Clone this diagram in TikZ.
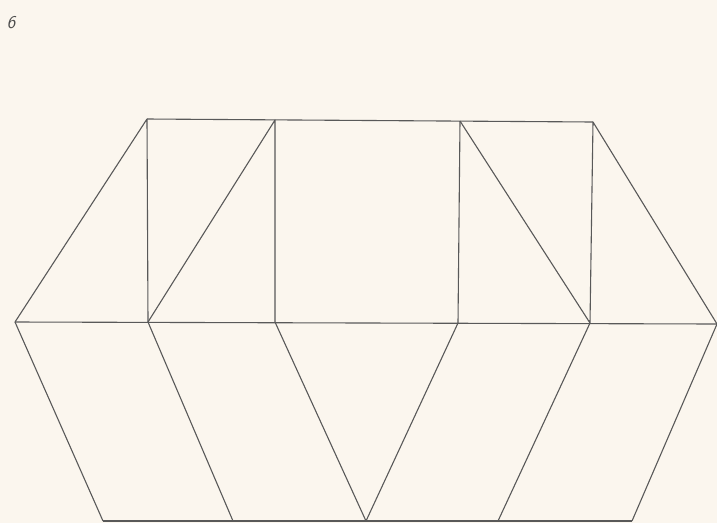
\documentclass[tikz,border=0pt]{standalone}
\begin{document}
\begin{tikzpicture}[x=1pt,y=-1pt,edge/.style={draw=black!65,line width=1.1pt,line join=round}]
\fill[fill={rgb,255:red,251;green,246;blue,238}] (0,0) rectangle (717,523);
\useasboundingbox (0,0) rectangle (717,523);
\node[font=\sffamily\itshape\fontsize{18}{20}\selectfont,text=black!70,inner sep=0pt] (lbl) at (11,23) {6};
% top row
\coordinate (t1) at (147,119);
\coordinate (t2) at (275,120);
\coordinate (t3) at (460,121);
\coordinate (t4) at (593,122);
% middle row
\coordinate (m0) at (15,322);
\coordinate (m1) at (148,322);
\coordinate (m2) at (275,322);
\coordinate (m3) at (458,323);
\coordinate (m4) at (590,323);
\coordinate (m5) at (717,324);
% bottom row
\coordinate (b1) at (103,521);
\coordinate (b2) at (233,521);
\coordinate (b3) at (366,521);
\coordinate (b4) at (498,521);
\coordinate (b5) at (632,521);
\draw[edge] (t1) -- (t4);
\draw[edge] (m0) -- (m5);
\draw[edge] (b1) -- (b5);
\draw[edge] (m0) -- (t1) -- (m1);
\draw[edge] (m1) -- (t2) -- (m2);
\draw[edge] (t3) -- (m3);
\draw[edge] (t3) -- (m4) -- (t4) -- (m5);
\draw[edge] (m0) -- (b1);
\draw[edge] (m1) -- (b2);
\draw[edge] (m2) -- (b3) -- (m3);
\draw[edge] (m4) -- (b4);
\draw[edge] (m5) -- (b5);
\end{tikzpicture}
\end{document}
